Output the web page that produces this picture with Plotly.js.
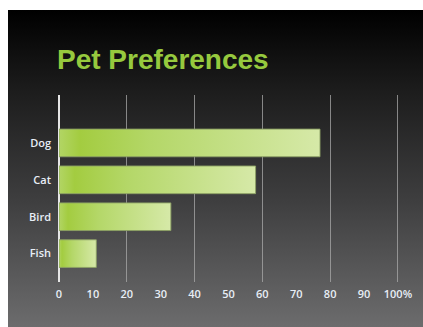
<!DOCTYPE html>
<html>
<head>
<meta charset="utf-8">
<script src="https://cdn.plot.ly/plotly-3.0.1.min.js"></script>
<style>
  html, body { margin: 0; padding: 0; background: #ffffff; width: 423px; height: 327px; overflow: hidden; }
  #panel { position: absolute; left: 8px; top: 10px; width: 415px; height: 317px;
           background: linear-gradient(to bottom, #000000 0%, #1c1c1c 25%, #3e3e3f 60%, #6c6c6d 100%); }
  #chart { position: absolute; left: 0; top: 0; width: 423px; height: 327px; }
</style>
</head>
<body>
<div id="panel"></div>
<div id="chart"></div>
<script>
// Data
const categories = ['Dog', 'Cat', 'Bird', 'Fish'];
const values = [77, 58, 33, 11];
const tickValues = [0, 10, 20, 30, 40, 50, 60, 70, 80, 90, 100];
const tickLabels = ['0', '10', '20', '30', '40', '50', '60', '70', '80', '90', '100%'];
const gridStep = 20;

const tickFont = { family: 'Open Sans, Liberation Sans, sans-serif', size: 11, color: '#e8eef6', weight: 600 };

const trace = {
  type: 'bar',
  orientation: 'h',
  y: categories,
  x: values,
  marker: { color: '#b8da6e', line: { color: 'rgba(140,160,100,0.9)', width: 1 } },
  hoverinfo: 'x+y',
  cliponaxis: false
};

// invisible trace to activate the grid axis
const gridTrace = {
  type: 'scatter', x: [0, 100], y: [null, null], xaxis: 'x2', yaxis: 'y',
  mode: 'markers', showlegend: false, hoverinfo: 'skip'
};

const layout = {
  width: 423, height: 327,
  paper_bgcolor: 'rgba(0,0,0,0)',
  plot_bgcolor: 'rgba(0,0,0,0)',
  margin: { l: 59, r: 23, t: 95, b: 45 },
  showlegend: false,
  bargap: 0.25,
  title: {
    text: 'Pet Preferences',
    font: { family: 'Liberation Sans, Arial, sans-serif', size: 28, color: '#96c93e', weight: 700 },
    xref: 'container', yref: 'container',
    x: 57 / 423, xanchor: 'left',
    y: 1 - 59 / 327, yanchor: 'middle'
  },
  xaxis: {
    range: [0, 100.6],
    tickvals: tickValues,
    ticktext: tickLabels,
    showgrid: false,
    zeroline: false,
    showline: false,
    ticks: '',
    tickfont: tickFont,
    ticklabelstandoff: 4,
    fixedrange: true
  },
  xaxis2: {
    range: [0, 100.6],
    overlaying: 'x',
    side: 'bottom',
    dtick: gridStep,
    tick0: 0,
    showgrid: true,
    gridcolor: 'rgba(170,170,170,0.75)',
    gridwidth: 1,
    zeroline: true,
    zerolinecolor: '#e6e6e6',
    zerolinewidth: 2,
    showticklabels: false,
    ticks: '',
    fixedrange: true
  },
  yaxis: {
    type: 'category',
    categoryorder: 'array',
    categoryarray: categories.slice().reverse(),
    range: [-0.77, 4.3],
    showgrid: false,
    zeroline: false,
    showline: false,
    ticks: '',
    tickfont: tickFont,
    ticklabelstandoff: 7,
    fixedrange: true
  }
};

Plotly.newPlot('chart', [gridTrace, trace], layout, { displayModeBar: false, staticPlot: true }).then(function (gd) {
  const svg = gd.querySelector('svg.main-svg');
  const ns = 'http://www.w3.org/2000/svg';
  let defs = svg.querySelector('defs');
  if (!defs) { defs = document.createElementNS(ns, 'defs'); svg.insertBefore(defs, svg.firstChild); }
  const grad = document.createElementNS(ns, 'linearGradient');
  grad.setAttribute('id', 'barGrad');
  grad.setAttribute('x1', '0'); grad.setAttribute('y1', '0');
  grad.setAttribute('x2', '1'); grad.setAttribute('y2', '0');
  [['0', '#b2d565'], ['0.08', '#a3cc40'], ['0.35', '#b4d768'], ['1', '#d6e9a8']].forEach(function (s) {
    const st = document.createElementNS(ns, 'stop');
    st.setAttribute('offset', s[0]);
    st.setAttribute('stop-color', s[1]);
    grad.appendChild(st);
  });
  defs.appendChild(grad);
  gd.querySelectorAll('.bars .point path').forEach(function (p) {
    p.style.fill = 'url(#barGrad)';
  });
});
</script>
</body>
</html>
